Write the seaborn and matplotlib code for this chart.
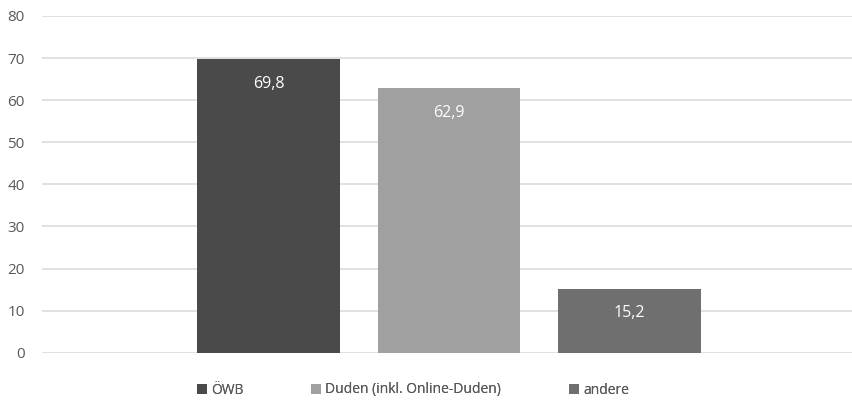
import matplotlib
matplotlib.use("Agg")
import matplotlib.pyplot as plt
import seaborn as sns
import pandas as pd
from matplotlib.patches import Patch

categories = ["ÖWB", "Duden (inkl. Online-Duden)", "andere"]
values = [69.8, 62.9, 15.2]
labels = ["69,8", "62,9", "15,2"]
colors = ["#4a4a4a", "#a0a0a0", "#6f6f6f"]
yticks = [0, 10, 20, 30, 40, 50, 60, 70, 80]

sns.set_theme(style="white")
plt.rcParams["font.family"] = ["Open Sans", "DejaVu Sans"]

df = pd.DataFrame({"cat": categories, "val": values})

W, H = 852, 401
fig = plt.figure(figsize=(W / 100, H / 100), dpi=100)
ax = fig.add_axes([42 / W, 48.3 / H, (852 - 42) / W, (385 - 48.3) / H])

sns.barplot(data=df, x="cat", y="val", hue="cat", palette=colors, order=categories,
            hue_order=categories, width=0.792, legend=False, ax=ax, saturation=1,
            linewidth=0)

ax.set_xlim(-1.255, 3.233)
ax.set_ylim(0, 80)
ax.set_yticks(yticks)
ax.set_xticks([])
ax.set_xlabel("")
ax.set_ylabel("")
ax.yaxis.grid(True, color="#d9d9d9", linewidth=1.1)
ax.set_axisbelow(True)
for s in ax.spines.values():
    s.set_visible(False)
ax.tick_params(axis="y", length=0, pad=12.5, labelsize=11, labelcolor="#595959")

for cont, lab in zip(ax.containers, labels):
    ax.bar_label(cont, labels=[lab], label_type="edge", padding=-23.5,
                 color="white", fontsize=11.5)

legend_x = [197 / W, 311 / W, 569 / W]
for cat, col, lx in zip(categories, colors, legend_x):
    leg = fig.legend(handles=[Patch(facecolor=col, edgecolor="none", label=cat)],
                     loc="center left", bbox_to_anchor=(lx, 11 / H), frameon=False,
                     borderpad=0, borderaxespad=0, handlelength=0.75, handleheight=0.75,
                     handletextpad=0.25, fontsize=10, labelcolor="#595959")
    fig.add_artist(leg)

fig.savefig("out.png", dpi=100)
